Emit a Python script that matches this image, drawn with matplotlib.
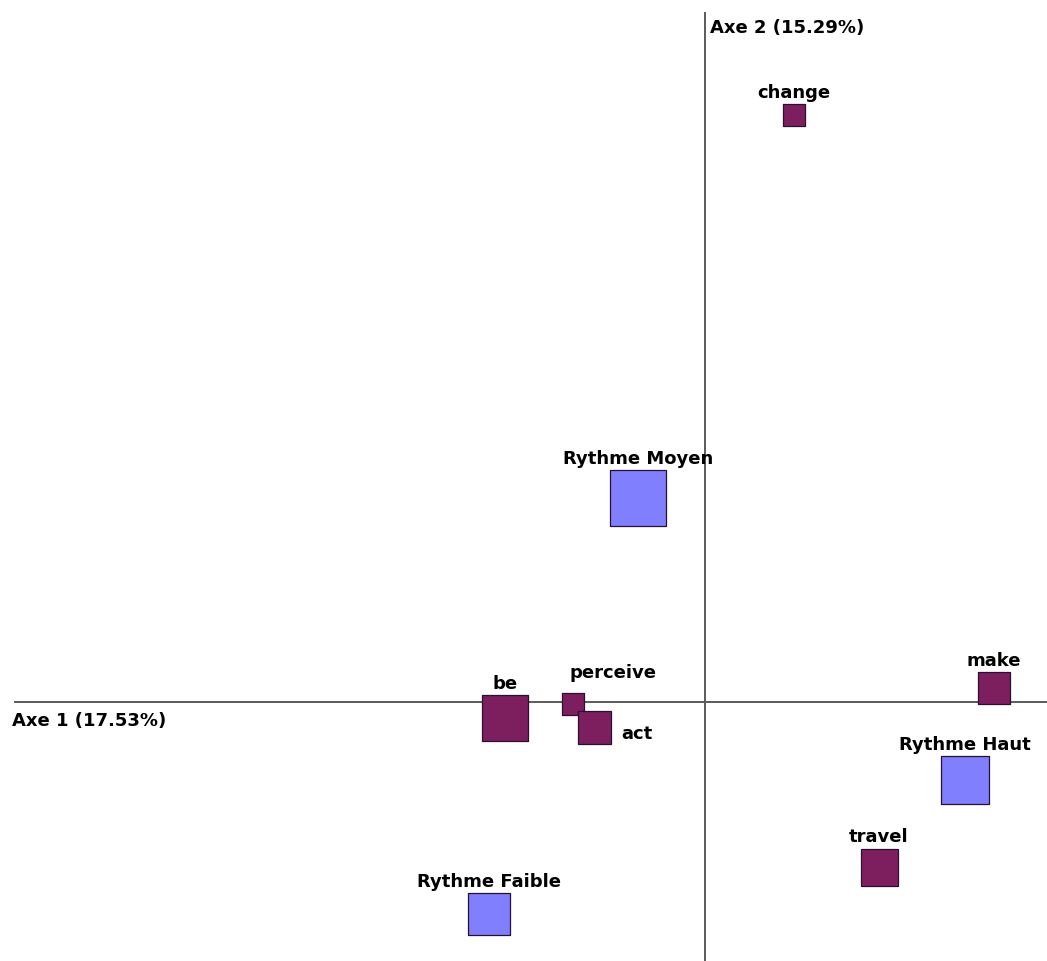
import matplotlib
matplotlib.use("Agg")
import matplotlib.pyplot as plt

# Correspondence analysis coordinates (Axe 1, Axe 2)
labels = ["change", "Rythme Moyen", "be", "perceive", "act", "make",
          "Rythme Haut", "travel", "Rythme Faible"]
axe1 = [0.356, -0.268, -0.800, -0.528, -0.444, 1.156, 1.040, 0.696, -0.864]
axe2 = [2.348, 0.816, -0.064, -0.008, -0.100, 0.056, -0.312, -0.660, -0.848]
mass = [22, 56, 46, 23, 33, 32, 47, 37, 42]  # square side (px)
group = ["verb", "rythme", "verb", "verb", "verb", "verb", "rythme", "verb", "rythme"]

axis1_label = "Axe 1 (17.53%)"
axis2_label = "Axe 2 (15.29%)"

colors = {"verb": "#7d1f5f", "rythme": "#8080ff"}

W, H, DPI = 1047, 961, 100
fig = plt.figure(figsize=(W / DPI, H / DPI), dpi=DPI)
ax = fig.add_axes([0, 0, 1, 1])
scale = 250.0
ax.set_xlim(-705 / scale, (W - 705) / scale)
ax.set_ylim((702 - H) / scale, 702 / scale)
ax.axis("off")

# axis lines
ax.plot([-690 / scale, (W - 705) / scale], [0, 0], color="#5a5a5a", lw=1.4, zorder=1)
ax.plot([0, 0], [(702 - H) / scale, 689 / scale], color="#5a5a5a", lw=1.4, zorder=1)

font = dict(family="DejaVu Sans", weight="bold", size=13, color="black")

for lab, x, y, m, g in zip(labels, axe1, axe2, mass, group):
    side_pt = m * 72 / DPI
    ax.scatter([x], [y], s=side_pt ** 2, marker="s", color=colors[g],
               edgecolor="#2a1030", linewidth=0.9, zorder=3)
    if lab == "perceive":
        off, ha = (40, 26), "center"
    elif lab == "act":
        off, ha = (m / 2 + 11, -12), "left"
    else:
        off, ha = (0, m / 2 + 6), "center"
    ax.annotate(lab, (x, y), xytext=off, textcoords="offset pixels",
                ha=ha, va="baseline", zorder=4, **font)

ax.annotate(axis1_label, (-705 / scale, 0), xytext=(12, -24),
            textcoords="offset pixels", ha="left", va="baseline", **font)
ax.annotate(axis2_label, (0, 702 / scale), xytext=(5, -33),
            textcoords="offset pixels", ha="left", va="baseline", **font)

fig.savefig("out.png", dpi=DPI, facecolor="white")
